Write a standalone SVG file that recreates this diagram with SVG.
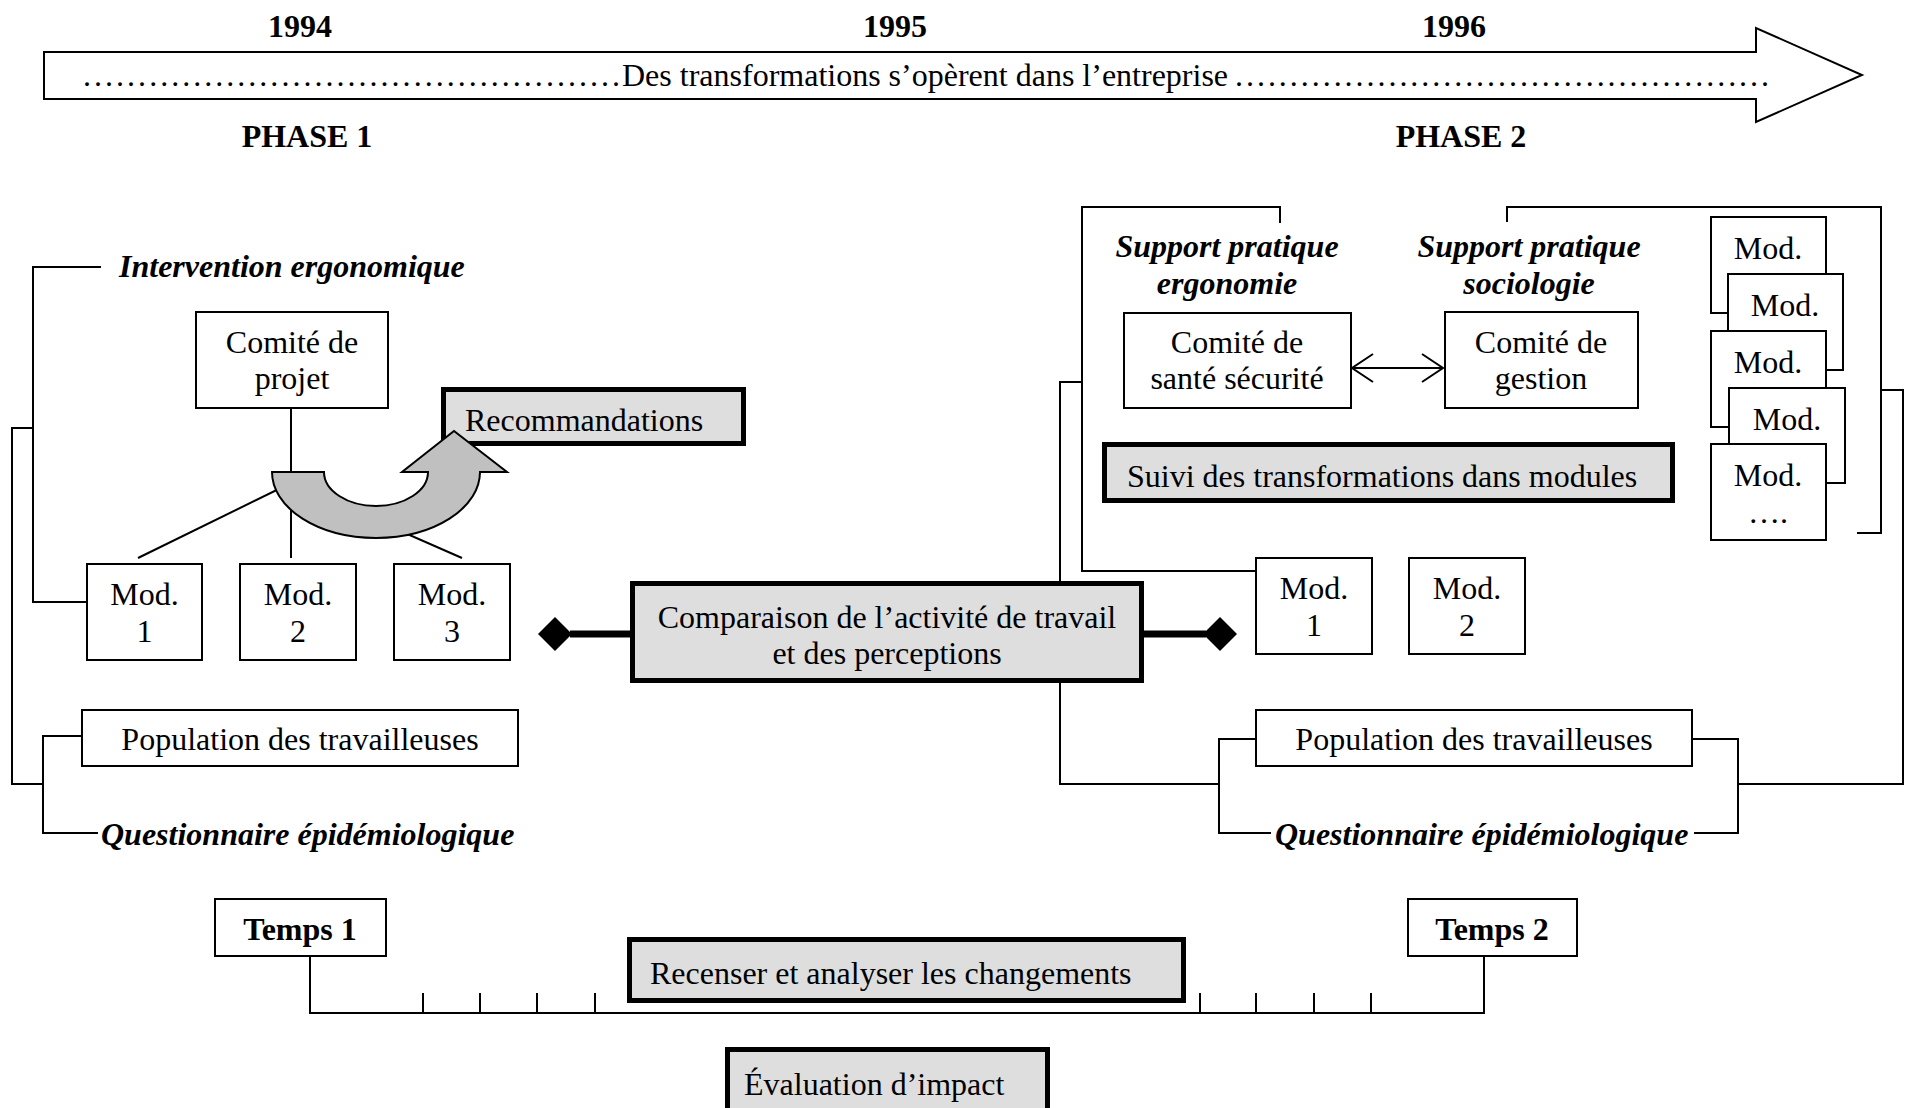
<svg xmlns="http://www.w3.org/2000/svg" width="1910" height="1108" viewBox="0 0 1910 1108">
<defs>
<style>
.t{font-family:"Liberation Serif","Times New Roman",serif;font-size:32px;fill:#000}
.b{font-weight:bold}
.bi{font-weight:bold;font-style:italic}
.m{text-anchor:middle}
.box{fill:#fff;stroke:#000;stroke-width:2}
.hbox{fill:#dedede;stroke:#000;stroke-width:5}
.ln{fill:none;stroke:#000;stroke-width:2}
.thick{fill:none;stroke:#000;stroke-width:7}
.dia{fill:#000}
</style>
<marker id="oa" markerWidth="26" markerHeight="32" refX="22" refY="15" orient="auto-start-reverse" markerUnits="userSpaceOnUse"><path d="M1,1 L22,15 L1,29" fill="none" stroke="#000" stroke-width="2"/></marker>
</defs>
<rect width="1910" height="1108" fill="#fff"/>

<g id="timeline-arrow">
<polygon points="44,52 1756,52 1756,28 1862,75 1756,122 1756,99 44,99" fill="#fff" stroke="#000" stroke-width="2"/>
<text class="t" x="83" y="86" textLength="537" lengthAdjust="spacing">.................................................</text>
<text class="t" x="622" y="86">Des transformations s’opèrent dans l’entreprise</text>
<text class="t" x="1235" y="86" textLength="534" lengthAdjust="spacing">.................................................</text>
</g>
<g id="years">
<text class="t b m" x="300" y="37" font-size="37">1994</text>
<text class="t b m" x="895" y="37" font-size="37">1995</text>
<text class="t b m" x="1454" y="37" font-size="37">1996</text>
<text class="t b m" x="307" y="147">PHASE 1</text>
<text class="t b m" x="1461" y="147">PHASE 2</text>
</g>

<g id="connectors">
<path class="ln" d="M101,267 H33 V602 H87"/>
<path class="ln" d="M33,428 H12 V784 H43"/>
<path class="ln" d="M82,736 H43 V833 H98"/>
<path class="ln" d="M291,408 V558"/>
<path class="ln" d="M291,483 L138,558"/>
<path class="ln" d="M291,483 L462,558"/>
<path class="ln" d="M1280,223 V207 H1082 V571 H1256"/>
<path class="ln" d="M1082,382 H1060 V784 H1219"/>
<path class="ln" d="M1256,739 H1219 V833 H1271"/>
<path class="ln" d="M1692,739 H1738 V833 H1694"/>
<path class="ln" d="M1738,784 H1903 V390 H1881"/>
<path class="ln" d="M1507,222 V207 H1881 V533 H1857"/>
<path class="ln" d="M1352,368 H1443" marker-start="url(#oa)" marker-end="url(#oa)"/>
<path class="thick" d="M570,634 H632"/>
<polygon class="dia" points="538,634 555,617 572,634 555,651"/>
<path class="thick" d="M1142,634 H1206"/>
<polygon class="dia" points="1203,634 1220,617 1237,634 1220,651"/>
<path class="ln" d="M310,956 V1013 H1484 V956"/>
<path class="ln" d="M423,993 V1013 M480,993 V1013 M537,993 V1013 M595,993 V1013 M1200,993 V1013 M1256,993 V1013 M1314,993 V1013 M1371,993 V1013"/>
</g>

<g id="intervention-ergonomique"><text class="t bi" x="119" y="277">Intervention ergonomique</text></g>
<g id="comite-projet"><rect class="box" x="196" y="312" width="192" height="96"/><text class="t m" x="292" y="353">Comité de</text><text class="t m" x="292" y="389">projet</text></g>
<g id="recommandations"><rect class="hbox" x="443.5" y="389.5" width="300" height="54"/><text class="t" x="465" y="431">Recommandations</text></g>
<g id="u-arrow"><path d="M272,472 L324,472 A52,34 0 0 0 428,472 L402,472 L454,431 L507,472 L480,472 A104,66 0 0 1 272,472 Z" fill="#c0c0c0" stroke="#000" stroke-width="2"/></g>
<g id="mod1-p1"><rect class="box" x="87" y="564" width="115" height="96"/><text class="t m" x="144.5" y="605">Mod.</text><text class="t m" x="144.5" y="642">1</text></g>
<g id="mod2-p1"><rect class="box" x="240" y="564" width="116" height="96"/><text class="t m" x="298" y="605">Mod.</text><text class="t m" x="298" y="642">2</text></g>
<g id="mod3-p1"><rect class="box" x="394" y="564" width="116" height="96"/><text class="t m" x="452" y="605">Mod.</text><text class="t m" x="452" y="642">3</text></g>
<g id="population-p1"><rect class="box" x="82" y="710" width="436" height="56"/><text class="t m" x="300" y="750">Population des travailleuses</text></g>
<g id="questionnaire-p1"><text class="t bi" x="101" y="845">Questionnaire épidémiologique</text></g>

<g id="comparaison"><rect class="hbox" x="632.5" y="583.5" width="509" height="97"/><text class="t m" x="887" y="628">Comparaison de l’activité de travail</text><text class="t m" x="887" y="664">et des perceptions</text></g>

<g id="support-ergonomie"><text class="t bi m" x="1227" y="257">Support pratique</text><text class="t bi m" x="1227" y="294">ergonomie</text></g>
<g id="support-sociologie"><text class="t bi m" x="1529" y="257">Support pratique</text><text class="t bi m" x="1529" y="294">sociologie</text></g>
<g id="comite-sante"><rect class="box" x="1124" y="313" width="227" height="95"/><text class="t m" x="1237" y="353">Comité de</text><text class="t m" x="1237" y="389">santé sécurité</text></g>
<g id="comite-gestion"><rect class="box" x="1445" y="312" width="193" height="96"/><text class="t m" x="1541" y="353">Comité de</text><text class="t m" x="1541" y="389">gestion</text></g>
<g id="suivi"><rect class="hbox" x="1104.5" y="444.5" width="568" height="56"/><text class="t" x="1127" y="487">Suivi des transformations dans modules</text></g>

<g id="stack-a"><rect class="box" x="1711" y="217" width="115" height="96"/><text class="t m" x="1768" y="259">Mod.</text></g>
<g id="stack-b"><rect class="box" x="1728" y="274" width="115" height="96"/><text class="t m" x="1785" y="316">Mod.</text></g>
<g id="stack-c"><rect class="box" x="1711" y="331" width="115" height="96"/><text class="t m" x="1768" y="373">Mod.</text></g>
<g id="stack-d"><rect class="box" x="1729" y="388" width="116" height="95"/><text class="t m" x="1787" y="430">Mod.</text></g>
<g id="stack-e"><rect class="box" x="1711" y="444" width="115" height="96"/><text class="t m" x="1768" y="486">Mod.</text><text class="t m" x="1768" y="523">….</text></g>

<g id="mod1-p2"><rect class="box" x="1256" y="558" width="116" height="96"/><text class="t m" x="1314" y="599">Mod.</text><text class="t m" x="1314" y="636">1</text></g>
<g id="mod2-p2"><rect class="box" x="1409" y="558" width="116" height="96"/><text class="t m" x="1467" y="599">Mod.</text><text class="t m" x="1467" y="636">2</text></g>
<g id="population-p2"><rect class="box" x="1256" y="710" width="436" height="56"/><text class="t m" x="1474" y="750">Population des travailleuses</text></g>
<g id="questionnaire-p2"><text class="t bi" x="1275" y="845">Questionnaire épidémiologique</text></g>

<g id="temps1"><rect class="box" x="215" y="899" width="171" height="57"/><text class="t b m" x="300" y="940">Temps 1</text></g>
<g id="temps2"><rect class="box" x="1408" y="899" width="169" height="57"/><text class="t b m" x="1492" y="940">Temps 2</text></g>
<g id="recenser"><rect class="hbox" x="629.5" y="939.5" width="554" height="61"/><text class="t" x="650" y="984">Recenser et analyser les changements</text></g>
<g id="evaluation"><rect class="hbox" x="727.5" y="1049.5" width="320" height="80"/><text class="t" x="744" y="1095">Évaluation d’impact</text></g>
</svg>
